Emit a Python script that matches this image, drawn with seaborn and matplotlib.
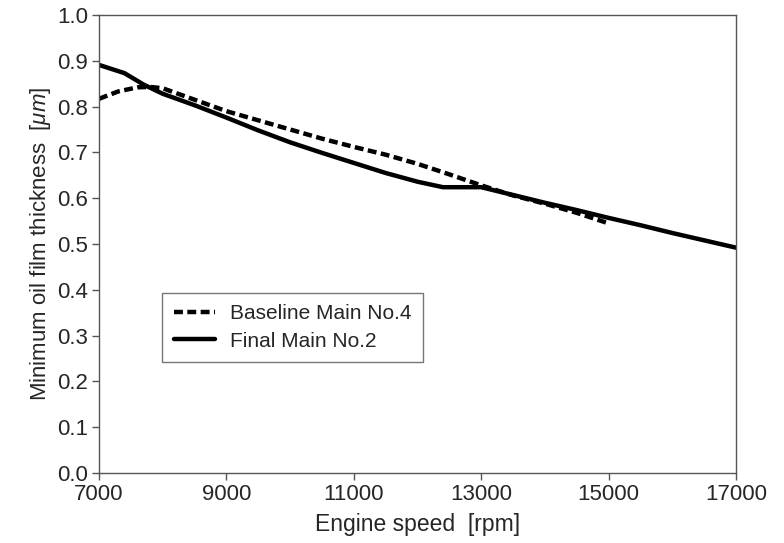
import matplotlib
matplotlib.use("Agg")
import matplotlib.pyplot as plt
import seaborn as sns
import pandas as pd

baseline_rpm = [7000, 7300, 7600, 7800, 8000, 8500, 9000, 9500, 10000, 10500, 11000, 11500, 12000, 12500, 13000, 13500, 14000, 14500, 15000]
baseline_h = [0.817, 0.833, 0.842, 0.843, 0.840, 0.815, 0.790, 0.770, 0.750, 0.730, 0.712, 0.695, 0.675, 0.652, 0.628, 0.606, 0.588, 0.568, 0.545]

final_rpm = [7000, 7400, 7700, 8000, 8500, 9000, 9500, 10000, 10500, 11000, 11500, 12000, 12400, 13000, 13500, 14000, 14500, 15000, 15500, 16000, 16500, 17000]
final_h = [0.891, 0.873, 0.848, 0.828, 0.803, 0.776, 0.748, 0.722, 0.699, 0.677, 0.655, 0.636, 0.624, 0.624, 0.607, 0.590, 0.574, 0.557, 0.541, 0.524, 0.508, 0.492]

series_names = ["Baseline Main No.4", "Final Main No.2"]

df = pd.concat([
    pd.DataFrame({"rpm": baseline_rpm, "h": baseline_h, "series": series_names[0]}),
    pd.DataFrame({"rpm": final_rpm, "h": final_h, "series": series_names[1]}),
])

sns.set_style("white")
plt.rcParams["font.family"] = ["Liberation Sans", "DejaVu Sans"]
plt.rcParams["mathtext.fontset"] = "custom"
plt.rcParams["mathtext.it"] = "Liberation Sans:italic"
plt.rcParams["mathtext.rm"] = "Liberation Sans"

fig = plt.figure(figsize=(7.84, 5.43), dpi=100)
ax = fig.add_axes([0.1263, 0.1289, 0.8125, 0.8435])

sns.lineplot(data=df, x="rpm", y="h", hue="series", style="series",
             palette=["black", "black"], dashes=[(2, 1), ""],
             linewidth=3.2, ax=ax, legend=True)

ax.set_xlim(7000, 17000)
ax.set_ylim(0, 1.0)
ax.set_xticks([7000, 9000, 11000, 13000, 15000, 17000])
ax.set_yticks([i / 10 for i in range(11)])
ax.set_yticklabels([f"{i/10:.1f}" for i in range(11)])
ax.tick_params(axis="both", direction="out", length=5, width=1, color="#555555",
               labelsize=16, left=True, bottom=True, pad=3)
ax.tick_params(axis="x", pad=3)
for s in ax.spines.values():
    s.set_color("#555555")
    s.set_linewidth(1)
ax.set_xlabel("Engine speed  [rpm]", fontsize=16.5, labelpad=6)
ax.set_ylabel(r"Minimum oil film thickness  [$\mu m$]", fontsize=16, labelpad=3)

leg = ax.legend(loc="lower left", bbox_to_anchor=(0.099, 0.242), fontsize=15,
                frameon=True, fancybox=False, edgecolor="#555555",
                handlelength=2.0, handletextpad=0.72, borderpad=0.55,
                labelspacing=0.4, borderaxespad=0)
leg.get_frame().set_linewidth(1)
for l in leg.get_lines():
    l.set_linewidth(3.2)

fig.savefig("out.png", dpi=100)
